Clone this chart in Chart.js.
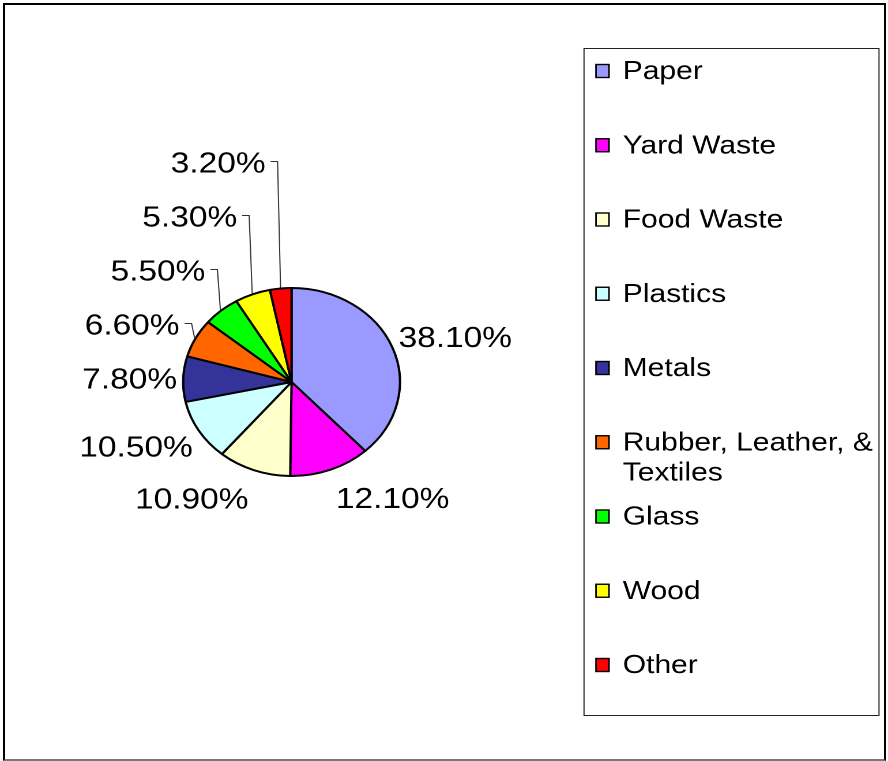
<!DOCTYPE html>
<html>
<head>
<meta charset="utf-8">
<script src="https://cdn.jsdelivr.net/npm/chart.js@4/dist/chart.umd.min.js"></script>
<style>
  html, body { margin: 0; padding: 0; background: #fff; }
  body { width: 888px; height: 761px; position: relative; overflow: hidden; }
  #wrap { position: absolute; left: 0; top: 0; width: 770px; height: 761px;
          transform: scaleX(1.153247); transform-origin: 0 0; }
  #frame { position: absolute; left: 3px; top: 3px; width: 879px; height: 754px;
           border: 2px solid #000; border-bottom-color: #777; pointer-events: none; }
</style>
</head>
<body>
<div id="wrap"><canvas id="c"></canvas></div>
<div id="frame"></div>
<script>
// ---- data ----
const categories = ['Paper', 'Yard Waste', 'Food Waste', 'Plastics', 'Metals',
  'Rubber, Leather, & Textiles', 'Glass', 'Wood', 'Other'];
const legendLines = [['Paper'], ['Yard Waste'], ['Food Waste'], ['Plastics'], ['Metals'],
  ['Rubber, Leather, &', 'Textiles'], ['Glass'], ['Wood'], ['Other']];
const shares = [38.1, 12.1, 10.9, 10.5, 7.8, 6.6, 5.5, 5.3, 3.2];
const sliceColors = ['#9999FF', '#FF00FF', '#FFFFCC', '#CCFFFF', '#333399',
  '#FF6600', '#00FF00', '#FFFF00', '#FF0000'];

const S = 888 / 770;           // horizontal stretch of the whole picture
const FONT = '"Liberation Sans", Arial, sans-serif';

const pieLabels = {
  id: 'pieLabels',
  afterDatasetsDraw(chart) {
    const ctx = chart.ctx;
    const meta = chart.getDatasetMeta(0);
    const data = chart.data.datasets[0].data;
    ctx.save();
    ctx.font = '29px ' + FONT;
    const capH = 29 * 0.716;
    const lineH = 32, gx = 5 / S, gy = 13, stackGap = 54;
    const items = meta.data.map((arc, i) => {
      const p = arc.getProps(['x', 'y', 'startAngle', 'endAngle', 'outerRadius'], true);
      const a = (p.startAngle + p.endAngle) / 2;
      const r = p.outerRadius + 1;
      const c = Math.cos(a), s = Math.sin(a);
      const px = p.x + r * c, py = p.y + r * s;
      const text = data[i].toFixed(2) + '%';
      const w = ctx.measureText(text).width;
      return { i, px, py, c, s, text, w,
               cx: px + Math.sign(c) * (w / 2 + gx),
               cy: py + s * (lineH / 2 + gy),
               leader: data[i] < 7 };
    });
    // stack small left-upper labels upward with leader lines
    let prevY = null;
    items.forEach(it => {
      if (it.leader) {
        if (prevY !== null) it.cy = Math.min(it.cy, prevY - stackGap);
        const right = it.px - 15 / S;
        it.cx = right - it.w / 2;
        it.right = right;
      }
      if (it.c < 0 && it.s < 0.2) prevY = it.cy;
    });
    ctx.strokeStyle = '#333';
    ctx.lineWidth = 1;
    items.forEach(it => {
      if (!it.leader) return;
      const ly = Math.round(it.cy - 1) + 0.5;
      ctx.beginPath();
      ctx.moveTo(it.right + 5 / S, ly);
      ctx.lineTo(it.right + 12 / S, ly);
      ctx.lineTo(it.px, it.py);
      ctx.stroke();
    });
    ctx.fillStyle = '#000';
    ctx.textAlign = 'center';
    ctx.textBaseline = 'alphabetic';
    items.forEach(it => ctx.fillText(it.text, it.cx, it.cy + capH / 2));
    ctx.restore();
  }
};

const boxLegend = {
  id: 'boxLegend',
  afterDraw(chart) {
    const ctx = chart.ctx;
    const box = { left: 584 / S, top: 48, right: 879 / S, bottom: 715 };
    const first = 71, step = 74.25;
    ctx.save();
    ctx.strokeStyle = '#222';
    ctx.lineWidth = 1;
    ctx.strokeRect(box.left, box.top + 0.5, box.right - box.left, box.bottom - box.top);
    ctx.font = '26px ' + FONT;
    ctx.textAlign = 'left';
    ctx.textBaseline = 'alphabetic';
    const colors = chart.data.datasets[0].backgroundColor;
    chart.data.labels.forEach((lab, i) => {
      const yc = first + i * step;
      const sx = 596 / S, sw = 13 / S, sh = 13;
      ctx.fillStyle = colors[i];
      ctx.fillRect(sx, yc - sh / 2, sw, sh);
      ctx.strokeStyle = '#000';
      ctx.lineWidth = 1.4;
      ctx.strokeRect(sx, yc - sh / 2, sw, sh);
      ctx.fillStyle = '#000';
      legendLines[i].forEach((ln, k) => ctx.fillText(ln, 540, yc + 8 + k * 30));
    });
    ctx.restore();
  }
};

new Chart(document.getElementById('c'), {
  type: 'pie',
  data: {
    labels: categories,
    datasets: [{
      data: shares,
      backgroundColor: sliceColors,
      borderColor: '#000',
      borderWidth: 2
    }]
  },
  options: {
    responsive: true,
    maintainAspectRatio: false,
    devicePixelRatio: 2,
    animation: false,
    layout: { padding: { left: 157.8, right: 422.2, top: 287, bottom: 284 } },
    plugins: { legend: { display: false }, tooltip: { enabled: false }, title: { display: false } }
  },
  plugins: [pieLabels, boxLegend]
});
</script>
</body>
</html>
